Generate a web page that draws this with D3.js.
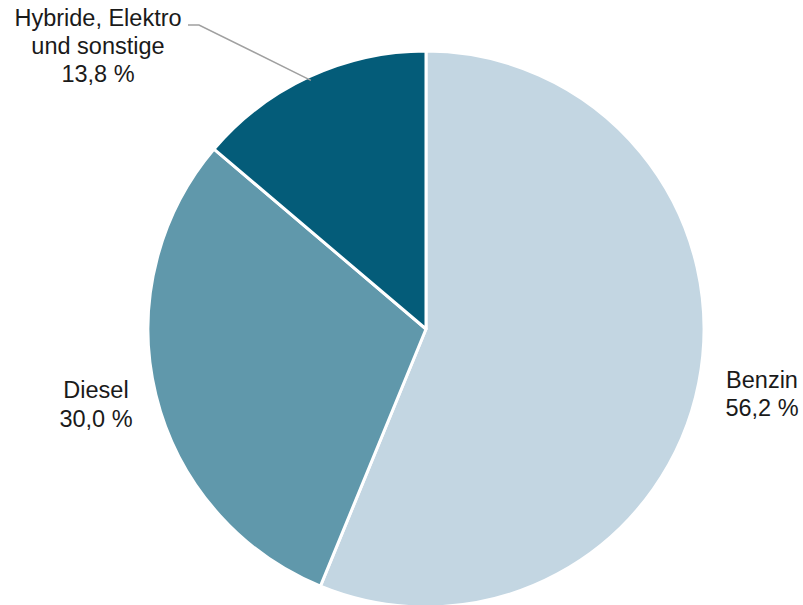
<!DOCTYPE html>
<html><head><meta charset="utf-8">
<script src="https://cdn.jsdelivr.net/npm/d3@7"></script>
<style>body{margin:0;background:#fff}svg{display:block}text{font-family:"Liberation Sans",Arial,sans-serif;font-size:23.5px;fill:#1a1a1a}</style>
</head><body>
<svg id="c" width="803" height="605"></svg>
<script>
const categories = ["Benzin", "Diesel", "Hybride, Elektro und sonstige"];
const values = [56.2, 30.0, 13.8];
const colors = ["#c3d6e2", "#6098ab", "#045c79"];
const labelLines = [["Benzin", "56,2 %"], ["Diesel", "30,0 %"], ["Hybride, Elektro", "und sonstige", "13,8 %"]];

const svg = d3.select("#c");
const cx = 426, cy = 329, r = 278;
const data = categories.map((c, i) => ({name: c, value: values[i], color: colors[i], lines: labelLines[i]}));
const pie = d3.pie().value(d => d.value).sort(null);
const arcs = pie(data);
const arc = d3.arc().innerRadius(0).outerRadius(r);
const g = svg.append("g").attr("transform", `translate(${cx},${cy})`);
g.selectAll("path").data(arcs).enter().append("path")
  .attr("d", arc).attr("fill", d => d.data.color)
  .attr("stroke", "#fff").attr("stroke-width", 3).attr("stroke-linejoin", "round");

const labelPos = [
  {x: 762, y: [388, 416]},
  {x: 96, y: [398, 427]},
  {x: 98, y: [26, 54, 82]}
];
arcs.forEach((a, i) => {
  const t = svg.append("text").attr("text-anchor", "middle");
  a.data.lines.forEach((ln, j) => {
    t.append("tspan").attr("x", labelPos[i].x).attr("y", labelPos[i].y[j]).text(ln);
  });
});
const mid = (arcs[2].startAngle + arcs[2].endAngle) / 2;
const ex = cx + Math.sin(mid) * (r - 4), ey = cy - Math.cos(mid) * (r - 4);
svg.append("polyline")
  .attr("points", `188,25 199,25 ${ex},${ey}`)
  .attr("fill", "none").attr("stroke", "#a0a0a0").attr("stroke-width", 1.5);
</script>
</body></html>
